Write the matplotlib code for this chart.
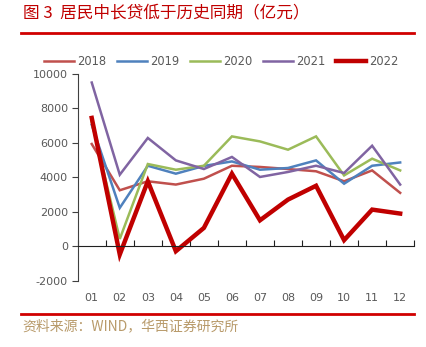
import matplotlib.pyplot as plt
from matplotlib.lines import Line2D

plt.rcParams['font.family'] = ['Noto Sans CJK SC', 'DejaVu Sans']

# 居民中长期贷款，亿元
months = ['01', '02', '03', '04', '05', '06', '07', '08', '09', '10', '11', '12']
y2018 = [5920, 3240, 3760, 3570, 3910, 4660, 4590, 4470, 4340, 3760, 4390, 3090]
y2019 = [7030, 2220, 4660, 4200, 4650, 4910, 4430, 4530, 4970, 3620, 4660, 4850]
y2020 = [7200, 420, 4760, 4430, 4660, 6360, 6070, 5590, 6360, 4100, 5070, 4390]
y2021 = [9480, 4140, 6270, 4970, 4470, 5170, 4010, 4300, 4660, 4240, 5820, 3570]
y2022 = [7430, -480, 3760, -290, 1060, 4200, 1500, 2700, 3500, 350, 2120, 1890]

series = [('2018', y2018, '#C0504D', 1.8),
          ('2019', y2019, '#4F81BD', 1.8),
          ('2020', y2020, '#9BBB59', 1.8),
          ('2021', y2021, '#8064A2', 1.8),
          ('2022', y2022, '#C00000', 3.2)]

num_font = {'family': 'DejaVu Sans', 'size': 8}

fig = plt.figure(figsize=(4.27, 3.47), dpi=100)
ax = fig.add_axes([0.182, 0.191, 0.788, 0.597])

x = list(range(len(months)))
for name, vals, col, lw in series:
    ax.plot(x, vals, color=col, lw=lw, label=name, solid_joinstyle='miter')

ax.set_xlim(-0.5, 11.5)
ax.set_ylim(-2000, 10000)
ax.set_yticks(range(-2000, 10001, 2000))
ax.set_yticklabels([str(v) for v in range(-2000, 10001, 2000)], fontdict=num_font)
ax.tick_params(axis='y', direction='out', length=4, color='#404040',
               labelcolor='#595959', pad=3)

for s in ['top', 'right']:
    ax.spines[s].set_visible(False)
ax.spines['left'].set_color('#404040')
ax.spines['bottom'].set_color('#202020')
ax.spines['bottom'].set_position(('data', 0))

# 零轴上的分隔刻度
ax.set_xticks([i - 0.5 for i in range(len(months) + 1)])
ax.tick_params(axis='x', direction='in', length=4, color='#202020', labelbottom=False)

# 月份标签放在图底
sec = ax.secondary_xaxis('bottom')
sec.set_xticks(x, months, fontdict=num_font)
sec.spines['bottom'].set_visible(False)
sec.tick_params(length=0, labelcolor='#595959', pad=9)

fig.legend(loc='center', bbox_to_anchor=(0.518, 0.824), ncol=5, frameon=False,
           prop={'family': 'DejaVu Sans', 'size': 8.3}, handlelength=2.6,
           handletextpad=0.3, columnspacing=0.9, labelcolor='#595959')

fig.text(0.054, 0.962, '图 3  居民中长贷低于历史同期（亿元）', color='#C00000',
         fontsize=12, va='center', ha='left')
fig.add_artist(Line2D([0.049, 0.970], [0.905, 0.905], color='#D00000', lw=2))
fig.add_artist(Line2D([0.049, 0.970], [0.095, 0.095], color='#D00000', lw=2))
fig.text(0.052, 0.060, '资料来源：WIND，华西证券研究所', color='#B89A6A',
         fontsize=10, va='center', ha='left')

fig.savefig('out.png', dpi=100, facecolor='white')
